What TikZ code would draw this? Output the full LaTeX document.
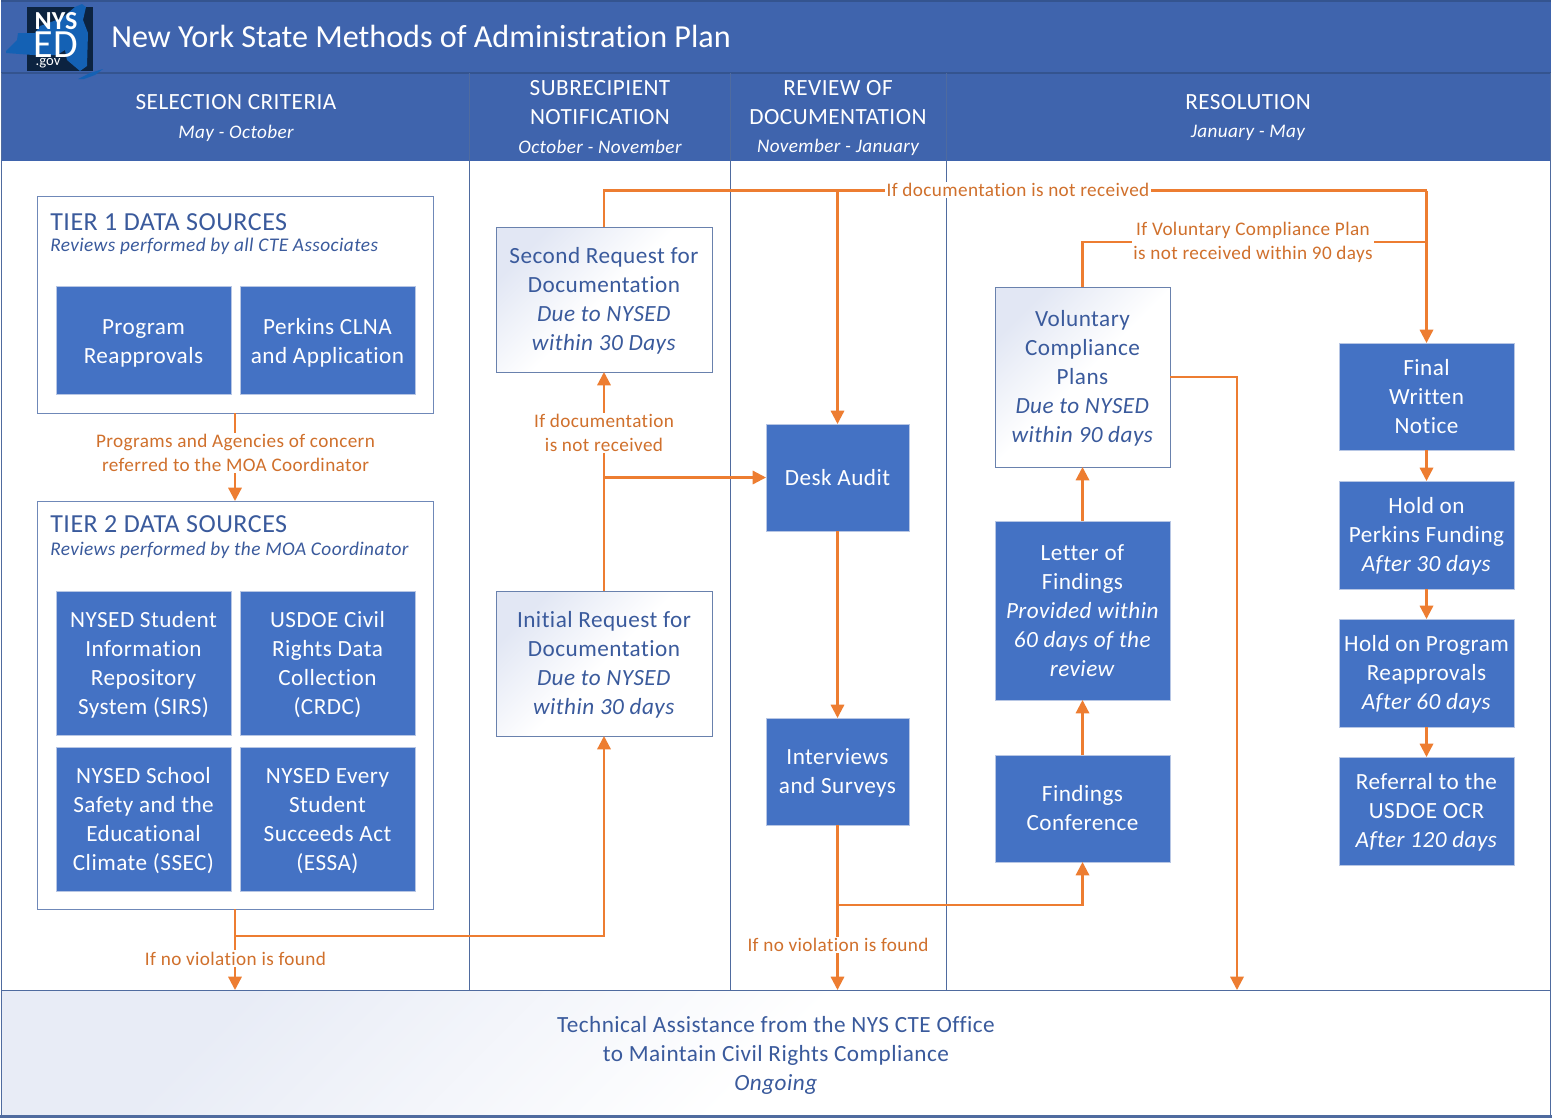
\documentclass[tikz,border=0pt]{standalone}
\usepackage{fontspec}
\setmainfont{Carlito}[LetterSpace=2,Ligatures=NoCommon]
\usetikzlibrary{arrows.meta}
\definecolor{hdr}{HTML}{3F64AD}
\definecolor{hdrline}{HTML}{34548F}
\definecolor{boxblue}{HTML}{4472C4}
\definecolor{boxedge}{HTML}{B7C6E4}
\definecolor{inkblue}{HTML}{3A5A9C}
\definecolor{frameln}{HTML}{4F6B9F}
\definecolor{tierln}{HTML}{6F88B8}
\definecolor{orangeln}{HTML}{ED7D31}
\definecolor{orangetx}{HTML}{D0702C}
\definecolor{shadetop}{HTML}{E2E7F4}
\definecolor{shadefoot}{HTML}{E8ECF6}
\definecolor{logodark}{HTML}{0C2340}
\definecolor{logoblue}{HTML}{1461B4}
\newcommand{\bodyfont}{\fontsize{17.4}{21.75}\selectfont}
\newcommand{\labfont}{\fontsize{14.4}{18}\selectfont}
\newcommand{\hdfont}{\fontsize{17.4}{21.75}\selectfont}
\newcommand{\subfont}{\fontsize{14.4}{18}\selectfont\itshape}
\newcommand{\dnA}{\rule{0pt}{15.7pt}}
\newcommand{\dnB}{\rule{0pt}{14.5pt}}
\newcommand{\dnC}{\rule{0pt}{13.7pt}}
\newcommand{\bx}[7]{%
  \pgfmathsetmacro{\bxw}{(#5-#3)*0.75}%
  \pgfmathsetmacro{\bxh}{(#6-#4)*0.75}%
  \node[#2,minimum width=\bxw pt,minimum height=\bxh pt] (#1) at ({(#3+#5)/2},{(#4+#6)/2}) {#7};}
\tikzset{
  x=0.75pt,y=-0.75pt,
  solidbox/.style={draw=boxedge,line width=0.75pt,fill=boxblue,text=white,align=center,inner sep=0pt,outer sep=0pt,font=\bodyfont},
  softbox/.style={draw=frameln!85!white,line width=0.75pt,top color=shadetop,bottom color=white,middle color=white,shading angle=45,text=inkblue,align=center,inner sep=0pt,outer sep=0pt,font=\bodyfont},
  footband/.style={top color=shadefoot,bottom color=white,middle color=white,shading angle=45,inner sep=0pt,outer sep=0pt},
  tierbox/.style={draw=tierln,line width=0.75pt,fill=white,inner sep=0pt,outer sep=0pt},
  conn/.style={draw=orangeln,line width=1.7pt},
  arr/.style={conn,-{Triangle[length=10pt,width=10pt]}},
  condlabel/.style={fill=white,text=orangetx,font=\labfont,align=center,inner sep=1pt,outer sep=0pt},
  headtext/.style={text=white,font=\hdfont,align=center,inner sep=0pt},
  headsub/.style={text=white,font=\subfont,align=center,inner sep=0pt},
  tiertitle/.style={text=inkblue,font=\fontsize{19.5}{20}\selectfont,anchor=west,inner sep=0pt},
  tiersub/.style={text=inkblue,font=\fontsize{14.5}{18}\selectfont\itshape,anchor=west,inner sep=0pt},
}
\begin{document}
\begin{tikzpicture}
\useasboundingbox (0,0) rectangle (1552,1118);
\fill[white] (0,0) rectangle (1552,1118);
% header
\fill[hdr] (1,1) rectangle (1551,161);
\draw[hdrline,line width=1pt] (1,73) -- (1551,73);
\draw[hdrline,line width=0.8pt] (1,1) -- (1551,1);
% footer band
\bx{ta}{footband}{2}{990}{1550}{1116}{}
\node[text=inkblue,font=\bodyfont,align=center,inner sep=0pt] (tatext) at (776,1055) {Technical Assistance from the NYS CTE Office\\to Maintain Civil Rights Compliance\\\textit{Ongoing}};
% frame and columns
\draw[frameln,line width=0.9pt] (1.5,73) -- (1.5,1116);
\draw[frameln,line width=0.9pt] (1550.5,73) -- (1550.5,1116);
\draw[frameln,line width=0.9pt] (1,990.5) -- (1551,990.5);
\draw[frameln,line width=2.2pt] (0,1116.5) -- (1552,1116.5);
\draw[frameln,line width=0.9pt] (469.5,73) -- (469.5,990);
\draw[frameln,line width=0.9pt] (730.5,73) -- (730.5,990);
\draw[frameln,line width=0.9pt] (946.5,73) -- (946.5,990);
% logo
\fill[logodark] (27,7) rectangle (93,71);
\fill[logoblue] (6,51) -- (17,40) -- (18,33) -- (35,33) -- (40,26) -- (62,18) -- (75,7) -- (82,4) -- (86,7) -- (83,20) -- (88,33) -- (87,66) -- (80,71) -- (67,60) -- (65,50) -- (57,55) -- (33,55) -- (6,53) -- cycle;
\fill[logoblue] (78,79) -- (90,73) -- (103,69) -- (95,75) -- (84,79) -- cycle;
\node[text=white,font=\fontsize{19.5}{19}\selectfont\bfseries\addfontfeatures{LetterSpace=0},inner sep=0pt] (lognys) at (56,21) {NYS};
\node[text=white,font=\fontsize{30}{30}\selectfont\addfontfeatures{LetterSpace=0},inner sep=0pt] (loged) at (56,45) {ED};
\node[text=white,font=\fontsize{11}{11}\selectfont\addfontfeatures{LetterSpace=0},inner sep=0pt] (loggov) at (48,63.5) {.gov};
% title and column heads
\node[text=white,font=\fontsize{24.1}{28}\selectfont\addfontfeatures{LetterSpace=0},anchor=west,inner sep=0pt] (title) at (111,36.3) {New York State Methods of Administration Plan};
\node[headtext] (h1) at (236,102) {SELECTION CRITERIA};
\node[headsub] (h1s) at (236,133) {May - October};
\node[headtext] (h2) at (600,102.5) {SUBRECIPIENT\\NOTIFICATION};
\node[headsub] (h2s) at (600,147) {October - November};
\node[headtext] (h3) at (838,102.5) {REVIEW OF\\DOCUMENTATION};
\node[headsub] (h3s) at (838,147) {November - January};
\node[headtext] (h4) at (1248,102) {RESOLUTION};
\node[headsub] (h4s) at (1248,133) {January - May};
% tier containers
\bx{tier1}{tierbox}{37}{196}{433}{413}{}
\bx{tier2}{tierbox}{37}{501}{433}{909}{}
\node[tiertitle] (t1t) at (50,222) {TIER 1 DATA SOURCES};
\node[tiersub] (t1s) at (50,246) {Reviews performed by all CTE Associates};
\node[tiertitle] (t2t) at (50,524) {TIER 2 DATA SOURCES};
\node[tiersub] (t2s) at (50,550) {Reviews performed by the MOA Coordinator};
% boxes
\bx{prog}{solidbox}{56}{286}{231}{394}{\dnA Program\\Reapprovals}
\bx{perk}{solidbox}{240}{286}{415}{394}{\dnA Perkins CLNA\\and Application}
\bx{sirs}{solidbox}{56}{591}{231}{735}{\dnB NYSED Student\\Information\\Repository\\System (SIRS)}
\bx{crdc}{solidbox}{240}{591}{415}{735}{\dnB USDOE Civil\\Rights Data\\Collection\\(CRDC)}
\bx{ssec}{solidbox}{56}{747}{231}{891}{\dnB NYSED School\\Safety and the\\Educational\\Climate (SSEC)}
\bx{essa}{solidbox}{240}{747}{415}{891}{\dnB NYSED Every\\Student\\Succeeds Act\\(ESSA)}
\bx{second}{softbox}{496}{227}{712}{372}{\dnB Second Request for\\Documentation\\\textit{Due to NYSED}\\\textit{within 30 Days}}
\bx{initial}{softbox}{496}{591}{712}{736}{\dnC Initial Request for\\Documentation\\\textit{Due to NYSED}\\\textit{within 30 days}}
\bx{desk}{solidbox}{766}{424}{909}{531}{Desk Audit}
\bx{inter}{solidbox}{766}{718}{909}{825}{\dnC Interviews\\and Surveys}
\bx{vol}{softbox}{995}{287}{1170}{467}{\dnC Voluntary\\Compliance\\Plans\\\textit{Due to NYSED}\\\textit{within 90 days}}
\bx{letter}{solidbox}{995}{521}{1170}{700}{Letter of\\Findings\\\textit{Provided within}\\\textit{60 days of the}\\\textit{review}}
\bx{conf}{solidbox}{995}{755}{1170}{862}{Findings\\Conference}
\bx{final}{solidbox}{1339}{343}{1514}{450}{Final\\Written\\Notice}
\bx{holdf}{solidbox}{1339}{481}{1514}{589}{\dnC Hold on\\Perkins Funding\\\textit{After 30 days}}
\bx{holdp}{solidbox}{1339}{619}{1514}{727}{\dnB Hold on Program\\Reapprovals\\\textit{After 60 days}}
\bx{refer}{solidbox}{1339}{757}{1514}{865}{\dnC Referral to the\\USDOE OCR\\\textit{After 120 days}}
% junctions
\coordinate (tj) at (tier2.south |- 0,936);
\coordinate (top) at (desk.north |- 0,190.5);
\coordinate (topr) at (final.north |- 0,190.5);
\coordinate (volj) at (final.north |- 0,242);
\coordinate (ij) at (inter.south |- 0,905);
\coordinate (volb) at (1237,990);
% connectors
\draw[arr] (tier1.south) -- (tier2.north);
\draw[arr] (tier2.south) -- (tier2.south |- ta.north);
\draw[arr] (tj) -| (initial.south);
\draw[arr] (initial.north) -- (second.south);
\draw[arr] (initial.north |- desk.west) -- (desk.west);
\draw[conn] (second.north) |- (top);
\draw[arr] (top) -- (desk.north);
\draw[conn] (top) -- (topr);
\draw[arr] (topr) -- (final.north);
\draw[arr] (desk.south) -- (inter.north);
\draw[arr] (inter.south) -- (inter.south |- ta.north);
\draw[arr] (ij) -| (conf.south);
\draw[arr] (conf.north) -- (letter.south);
\draw[arr] (letter.north) -- (vol.south);
\draw[conn] (vol.north) |- (volj);
\draw[arr] (vol.east) -| (volb);
\draw[arr] (final.south) -- (holdf.north);
\draw[arr] (holdf.south) -- (holdp.north);
\draw[arr] (holdp.south) -- (refer.north);
% connector labels
\node[condlabel] (l1) at (235.5,453) {Programs and Agencies of concern\\referred to the MOA Coordinator};
\node[condlabel] (l2) at (235.5,958.5) {If no violation is found};
\node[condlabel] (l3) at (604,433) {If documentation\\is not received};
\node[condlabel] (l4) at (1018,190) {If documentation is not received};
\node[condlabel] (l5) at (1253,242.5) {If Voluntary Compliance Plan\\is not received within 90 days};
\node[condlabel] (l6) at (838,945) {If no violation is found};
\end{tikzpicture}
\end{document}
